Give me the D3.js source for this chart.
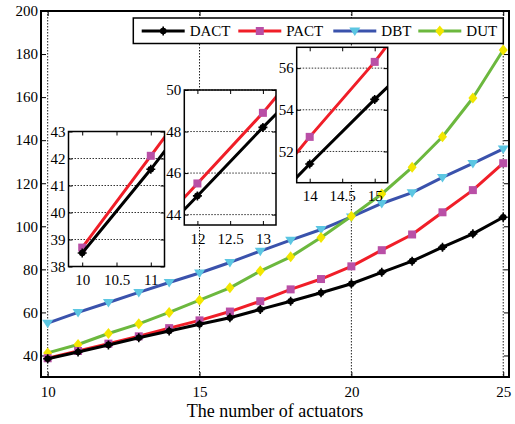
<!DOCTYPE html>
<html>
<head>
<meta charset="utf-8">
<script src="https://cdn.jsdelivr.net/npm/d3@7"></script>
<style>
  body { margin: 0; background: #fff; }
  svg { display: block; }
  svg text { font-family: "Liberation Serif", "Times New Roman", serif !important; fill: #000; }
</style>
</head>
<body>
<script>
// Number of actuators (x) and the four methods' values
const actuators = [10, 11, 12, 13, 14, 15, 16, 17, 18, 19, 20, 21, 22, 23, 24, 25];
const dact = [38.5, 41.6, 44.9, 48.2, 51.4, 54.5, 57.5, 61.4, 65.2, 69.1, 73.3, 78.6, 83.8, 90.3, 96.5, 104.2];
const pact = [38.7, 42.1, 45.5, 48.9, 52.7, 56.3, 60.4, 65.2, 70.7, 75.5, 81.4, 88.9, 96.2, 106.5, 116.8, 129.3];
const dbt  = [55.0, 60.0, 64.6, 69.3, 73.9, 78.3, 83.2, 88.5, 93.6, 98.5, 104.4, 110.6, 115.6, 122.7, 129.2, 136.0];
const dut  = [41.2, 45.1, 50.2, 54.7, 60.0, 65.7, 71.4, 79.2, 85.8, 94.8, 104.7, 115.0, 127.4, 141.6, 159.6, 181.9];
const seriesNames = ["DACT", "PACT", "DBT", "DUT"];

// Axis ticks
const xTicks = [10, 15, 20, 25];
const yTicks = [40, 60, 80, 100, 120, 140, 160, 180, 200];

// Zoomed views: x ticks and y ticks for each
const inset1X = [10, 10.5, 11], inset1Y = [38, 39, 40, 41, 42, 43];
const inset2X = [12, 12.5, 13], inset2Y = [44, 46, 48, 50];
const inset3X = [14, 14.5, 15], inset3Y = [52, 54, 56];

const W = 515, H = 424;
const svg = d3.select("body").append("svg").attr("width", W).attr("height", H);
const SERIF = '"Liberation Serif", "Times New Roman", serif';
const fmt = d3.format("~g");

const styles = {
  DACT: { line: "#000000", fill: "#000000", shape: "dact" },
  PACT: { line: "#f01e28", fill: "#b94fa6", shape: "square" },
  DBT:  { line: "#3a52ac", fill: "#5cc6e2", shape: "tri" },
  DUT:  { line: "#6cb83e", fill: "#f2e600", shape: "diamond" }
};
const values = { DACT: dact, PACT: pact, DBT: dbt, DUT: dut };
const drawOrder = ["DBT", "DUT", "PACT", "DACT"];

function drawMarker(g, shape, fill, cx, cy, k) {
  k = k || 1;
  if (shape === "square") {
    const s = 8 * k;
    g.append("rect").attr("x", cx - s / 2).attr("y", cy - s / 2).attr("width", s).attr("height", s)
      .attr("fill", fill);
  } else if (shape === "tri") {
    const w = 5.5 * k, h = 8.5 * k;
    g.append("path").attr("d", `M${cx - w},${cy - h * 0.4}L${cx + w},${cy - h * 0.4}L${cx},${cy + h * 0.6}Z`)
      .attr("fill", fill);
  } else if (shape === "diamond") {
    const w = 4.5 * k, h = 5.5 * k;
    g.append("path").attr("d", `M${cx},${cy - h}L${cx + w},${cy}L${cx},${cy + h}L${cx - w},${cy}Z`)
      .attr("fill", fill);
  } else {
    g.append("circle").attr("cx", cx).attr("cy", cy).attr("r", 3.3 * k).attr("fill", fill);
    g.append("path").attr("d", `M${cx - 4.5 * k},${cy}H${cx + 4.5 * k}M${cx},${cy - 4.5 * k}V${cy + 4.5 * k}`)
      .attr("stroke", fill).attr("stroke-width", 1.6);
  }
}

function styleLabels(a) {
  a.attr("font-family", SERIF);
  a.selectAll("text").style("font-family", SERIF).style("font-size", "15px");
}

// ---------- main axes ----------
const M = { l: 41, r: 509, t: 11, b: 377 };
const x = d3.scaleLinear().domain([9.78, 25.19]).range([M.l, M.r]);
const y = d3.scaleLinear().domain([30, 200]).range([M.b, M.t]);

const main = svg.append("g");

// vertical dotted grid
main.selectAll(".vgrid").data(xTicks).join("line")
  .attr("x1", d => x(d)).attr("x2", d => x(d)).attr("y1", M.t).attr("y2", M.b)
  .attr("stroke", "#222").attr("stroke-width", 1).attr("stroke-dasharray", "1.5,1.5");

// inward ticks on all four sides
const tickLen = 5;
main.append("g").attr("transform", `translate(0,${M.b})`)
  .call(d3.axisBottom(x).tickValues(xTicks).tickSize(-tickLen).tickPadding(9).tickFormat(fmt))
  .call(g => g.select(".domain").remove())
  .call(styleLabels);
main.append("g").attr("transform", `translate(0,${M.t})`)
  .call(d3.axisTop(x).tickValues(xTicks).tickSize(-tickLen).tickFormat(""))
  .call(g => g.select(".domain").remove());
main.append("g").attr("transform", `translate(${M.l},0)`)
  .call(d3.axisLeft(y).tickValues(yTicks).tickSize(-tickLen).tickPadding(3).tickFormat(fmt))
  .call(g => g.select(".domain").remove())
  .call(styleLabels);
main.append("g").attr("transform", `translate(${M.r},0)`)
  .call(d3.axisRight(y).tickValues(yTicks).tickSize(-tickLen).tickFormat(""))
  .call(g => g.select(".domain").remove());
main.selectAll(".tick line").attr("stroke", "#000").attr("stroke-width", 1);

// series lines and markers
const lineGen = d3.line().x(d => x(d[0])).y(d => y(d[1]));
drawOrder.forEach(name => {
  const pts = actuators.map((a, i) => [a, values[name][i]]);
  main.append("path").attr("d", lineGen(pts)).attr("fill", "none")
    .attr("stroke", styles[name].line).attr("stroke-width", 3).attr("stroke-linejoin", "round");
  const mg = main.append("g");
  pts.forEach(p => drawMarker(mg, styles[name].shape, styles[name].fill, x(p[0]), y(p[1])));
});

// frame
main.append("rect").attr("x", M.l).attr("y", M.t).attr("width", M.r - M.l).attr("height", M.b - M.t)
  .attr("fill", "none").attr("stroke", "#000").attr("stroke-width", 2);

// x-axis title
svg.append("text").attr("x", (M.l + M.r) / 2).attr("y", 417).attr("text-anchor", "middle")
  .style("font-family", SERIF).style("font-size", "18px").text("The number of actuators");

// ---------- zoomed views ----------
function drawInset(id, box, xd, yd, xt, yt) {
  const g = svg.append("g");
  const sx = d3.scaleLinear().domain(xd).range([box.l, box.r]);
  const sy = d3.scaleLinear().domain(yd).range([box.b, box.t]);
  g.append("rect").attr("x", box.l).attr("y", box.t).attr("width", box.r - box.l).attr("height", box.b - box.t)
    .attr("fill", "#fff");
  // horizontal dotted grid
  g.selectAll(".hg").data(yt).join("line")
    .attr("x1", box.l).attr("x2", box.r).attr("y1", d => sy(d)).attr("y2", d => sy(d))
    .attr("stroke", "#333").attr("stroke-width", 1).attr("stroke-dasharray", "1.5,1.5");
  const tl = 4;
  g.append("g").attr("transform", `translate(0,${box.b})`)
    .call(d3.axisBottom(sx).tickValues(xt).tickSize(-tl).tickPadding(8).tickFormat(fmt))
    .call(a => a.select(".domain").remove())
    .call(styleLabels);
  g.append("g").attr("transform", `translate(0,${box.t})`)
    .call(d3.axisTop(sx).tickValues(xt).tickSize(-tl).tickFormat(""))
    .call(a => a.select(".domain").remove());
  g.append("g").attr("transform", `translate(${box.l},0)`)
    .call(d3.axisLeft(sy).tickValues(yt).tickSize(-tl).tickPadding(3).tickFormat(fmt))
    .call(a => a.select(".domain").remove())
    .call(styleLabels);
  g.append("g").attr("transform", `translate(${box.r},0)`)
    .call(d3.axisRight(sy).tickValues(yt).tickSize(-tl).tickFormat(""))
    .call(a => a.select(".domain").remove());
  g.selectAll(".tick line").attr("stroke", "#000");

  svg.append("clipPath").attr("id", id).append("rect")
    .attr("x", box.l).attr("y", box.t).attr("width", box.r - box.l).attr("height", box.b - box.t);
  const inner = g.append("g").attr("clip-path", `url(#${id})`);
  const lg = d3.line().x(d => sx(d[0])).y(d => sy(d[1]));
  ["PACT", "DACT"].forEach(name => {
    const pts = actuators.map((a, i) => [a, values[name][i]]);
    inner.append("path").attr("d", lg(pts)).attr("fill", "none")
      .attr("stroke", styles[name].line).attr("stroke-width", 3);
    pts.filter(p => p[0] >= xd[0] && p[0] <= xd[1] && p[1] >= yd[0] && p[1] <= yd[1])
      .forEach(p => drawMarker(inner, styles[name].shape, styles[name].fill, sx(p[0]), sy(p[1])));
  });
  g.append("rect").attr("x", box.l).attr("y", box.t).attr("width", box.r - box.l).attr("height", box.b - box.t)
    .attr("fill", "none").attr("stroke", "#000").attr("stroke-width", 1.5);
}

drawInset("clipA", { l: 68.5, r: 164.5, t: 131.5, b: 266.5 }, [9.8, 11.2], [38, 43], inset1X, inset1Y);
drawInset("clipB", { l: 184.3, r: 276, t: 90, b: 225 }, [11.8, 13.2], [43.5, 50], inset2X, inset2Y);
drawInset("clipC", { l: 296.7, r: 387.7, t: 47.3, b: 182.7 }, [13.8, 15.2], [50.5, 57], inset3X, inset3Y);

// ---------- legend ----------
const leg = svg.append("g");
leg.append("rect").attr("x", 133.3).attr("y", 18).attr("width", 370).attr("height", 25.5)
  .attr("fill", "#fff").attr("stroke", "#000").attr("stroke-width", 1.5);
const legStarts = [141.7, 238.3, 333.3, 418.3];
seriesNames.forEach((name, i) => {
  const x0 = legStarts[i], x1 = x0 + 43, cy = 31;
  leg.append("line").attr("x1", x0).attr("x2", x1).attr("y1", cy).attr("y2", cy)
    .attr("stroke", styles[name].line).attr("stroke-width", 3);
  drawMarker(leg, styles[name].shape, styles[name].fill, (x0 + x1) / 2, cy);
  leg.append("text").attr("x", x1 + 5).attr("y", cy + 5)
    .style("font-family", SERIF).style("font-size", "15px").text(name);
});
</script>
</body>
</html>
